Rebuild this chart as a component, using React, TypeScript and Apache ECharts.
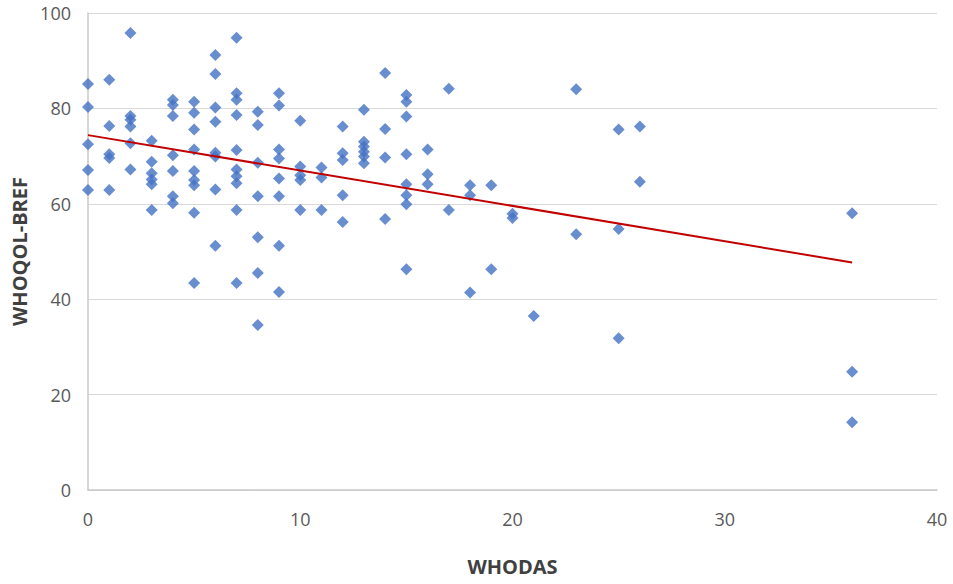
import React, { useEffect, useRef } from "react";
import * as echarts from "echarts";

const xTicks = { min: 0, max: 40, interval: 10 };
const yTicks = { min: 0, max: 100, interval: 20 };

// WHODAS score per column and the WHOQOL-BREF values observed for it
const whodasValues = [0, 1, 2, 3, 4, 5, 6, 7, 8, 9, 10, 11, 12, 13, 14, 15, 16, 17, 18, 19, 20, 21, 23, 25, 26, 36];
const whoqolByWhodas = [
  [85.1, 80.3, 72.5, 67.1, 62.9],
  [86, 76.3, 70.4, 69.6, 62.9],
  [95.8, 78.4, 77.6, 76.2, 72.7, 67.2],
  [73.2, 68.8, 66.4, 65.1, 64.1, 58.7],
  [81.8, 80.7, 78.4, 70.2, 66.9, 61.6, 60.1],
  [81.4, 79.1, 75.6, 71.4, 66.9, 65, 63.9, 58.1, 43.4],
  [91.2, 87.2, 80.2, 77.2, 70.7, 69.9, 63, 51.2],
  [94.8, 83.2, 81.8, 78.6, 71.3, 67.2, 65.8, 64.3, 58.7, 43.4],
  [79.3, 76.5, 68.6, 61.6, 53, 45.5, 34.6],
  [83.2, 80.6, 71.4, 69.5, 65.3, 61.6, 51.2, 41.5],
  [77.4, 67.8, 66, 65, 58.7],
  [67.6, 65.5, 58.7],
  [76.2, 70.6, 69.2, 61.8, 56.2],
  [79.7, 73, 72, 70.9, 69.9, 68.5],
  [87.4, 75.7, 69.7, 56.8],
  [82.8, 81.4, 78.3, 70.4, 64.1, 61.8, 59.9, 46.3],
  [71.4, 66.2, 64.1],
  [84.1, 58.7],
  [63.9, 61.8, 41.4],
  [63.9, 46.3],
  [57.9, 57],
  [36.5],
  [84, 53.6],
  [75.6, 54.7, 31.8],
  [76.2, 64.6],
  [58, 24.8, 14.2],
];

// Linear trend line endpoints (x, y)
const trendX = [0, 36];
const trendY = [74.4, 47.7];

const xTitle = "WHODAS";
const yTitle = "WHOQOL-BREF";

export default function App() {
  const ref = useRef<HTMLDivElement>(null);
  useEffect(() => {
    if (!ref.current) return;
    document.body.style.margin = "0";
    document.body.style.overflow = "hidden";
    const chart = echarts.init(ref.current, undefined, { renderer: "svg" });
    const points: number[][] = [];
    whodasValues.forEach((x, i) => {
      whoqolByWhodas[i].forEach((y) => points.push([x, y]));
    });
    const trend = trendX.map((x, i) => [x, trendY[i]]);
    const font = "'Open Sans', 'Liberation Sans', sans-serif";
    chart.setOption({
      animation: false,
      backgroundColor: "#ffffff",
      grid: { left: 88, right: 16, top: 13, bottom: 94 },
      xAxis: {
        type: "value",
        min: xTicks.min,
        max: xTicks.max,
        interval: xTicks.interval,
        name: xTitle,
        nameLocation: "middle",
        nameGap: 66,
        nameTextStyle: { fontFamily: font, fontSize: 20, fontWeight: "bold", color: "#404040" },
        axisLine: { show: true, lineStyle: { color: "#c8c8c8", width: 1.5 } },
        axisTick: { show: false },
        splitLine: { show: false },
        axisLabel: { fontFamily: font, fontSize: 18, color: "#595959", margin: 20 },
      },
      yAxis: {
        type: "value",
        min: yTicks.min,
        max: yTicks.max,
        interval: yTicks.interval,
        name: yTitle,
        nameLocation: "middle",
        nameGap: 58,
        nameRotate: 90,
        nameTextStyle: { fontFamily: font, fontSize: 20, fontWeight: "bold", color: "#404040" },
        axisLine: { show: true, lineStyle: { color: "#c8c8c8", width: 1.5 } },
        axisTick: { show: false },
        splitLine: { show: true, lineStyle: { color: "#d9d9d9", width: 1 } },
        axisLabel: { fontFamily: font, fontSize: 18, color: "#595959", margin: 17 },
      },
      series: [
        {
          type: "scatter",
          data: points,
          symbol: "diamond",
          symbolSize: 12,
          itemStyle: { color: "#4472C4" },
          z: 2,
        },
        {
          type: "line",
          data: trend,
          showSymbol: false,
          symbol: "none",
          lineStyle: { color: "#C00000", width: 2 },
          z: 3,
        },
      ],
    });
    return () => chart.dispose();
  }, []);
  return <div ref={ref} style={{ width: 953, height: 584 }} />;
}
